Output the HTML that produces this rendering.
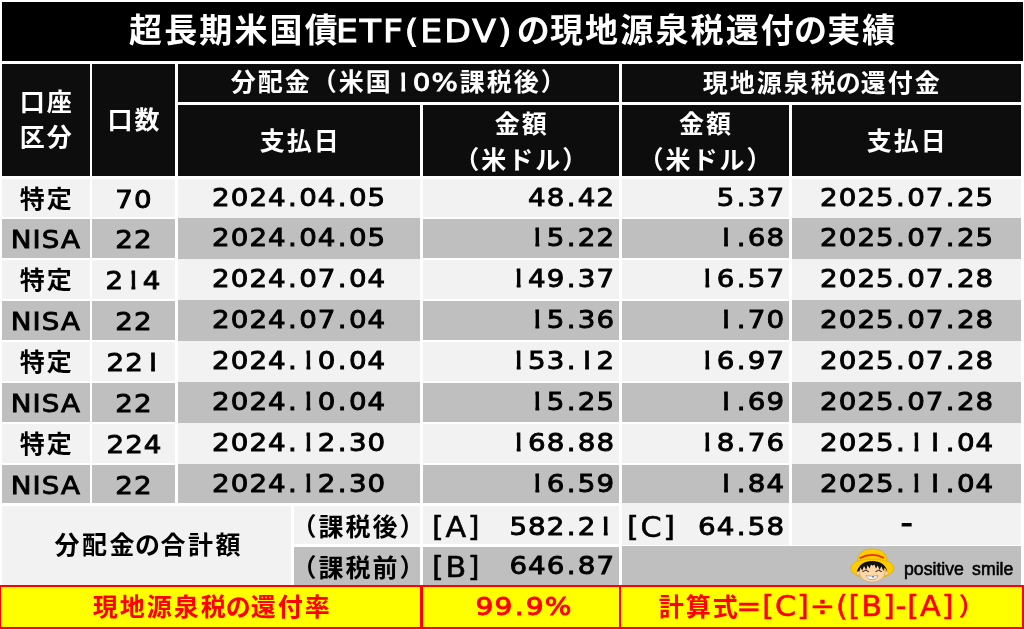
<!DOCTYPE html>
<html lang="ja"><head><meta charset="utf-8"><title>EDV</title><style>
html,body{margin:0;padding:0;background:#fff;}
body{width:1024px;height:629px;overflow:hidden;position:relative;font-family:"DejaVu Sans","Noto Sans CJK JP",sans-serif;}
.c{position:absolute;box-sizing:border-box;white-space:nowrap;overflow:visible;text-align:center;color:#000;}
.c i{font-style:normal;}
.c b{font-weight:inherit;}
.title{color:#fff;font-family:"Noto Sans CJK JP",sans-serif;font-weight:700;font-size:33px;letter-spacing:2.15px;line-height:53.5px;}
.c u{text-decoration:none;margin:0 -2px;}
.title b{font-family:"DejaVu Sans",sans-serif;font-weight:400;font-size:31.5px;-webkit-text-stroke:1px #fff;display:inline-block;transform:scaleX(1.1);margin:0 13.5px 0 4px;letter-spacing:1.8px;}
.h.two{padding-bottom:1px;}
.h.k1{padding-bottom:3.5px;line-height:35px;}
.h{color:#fff;font-family:"Noto Sans CJK JP",sans-serif;font-weight:700;font-size:25px;letter-spacing:2px;display:flex;align-items:center;justify-content:center;line-height:36px;padding-bottom:3px;}
.h b{font-family:"DejaVu Sans",sans-serif;font-weight:400;font-size:25.2px;-webkit-text-stroke:0.9px #fff;display:inline-block;transform:scaleX(1.1);margin:0 4px;letter-spacing:0.95px;}
.d{font-size:28px;}
.jp{font-family:"Noto Sans CJK JP",sans-serif;font-weight:700;font-size:25px;letter-spacing:2px;}
.jp span,.h span,.title span{margin-right:-2px;}
.nisa{letter-spacing:1.8px;}
.nisa span{margin-right:-1.8px;}
.n{font-family:"DejaVu Sans",sans-serif;font-size:25.2px;letter-spacing:0.95px;-webkit-text-stroke:0.9px #000;}
.n span,.n em{display:inline-block;transform:scaleX(1.1);transform-origin:50% 50%;margin-right:-0.95px;}
.n i{margin:0 1.15px;}
.c s{text-decoration:none;display:inline-block;clip-path:inset(-3px 6.85px -3px 6.7px);}
.r span,.lab span{transform-origin:100% 50%;}
.r{text-align:right;padding-right:4px;}
.lab{text-align:right;padding-right:4px;}
.labc em{left:5.2px !important;}
.lab em{font-style:normal;position:absolute;top:1px;left:9px;transform-origin:0 50%;font-size:27.5px;-webkit-text-stroke:0.5px #000;letter-spacing:1.5px;}
.sub span{position:relative;left:-2.5px;top:0.5px;}
.tot{letter-spacing:2.5px;padding-left:3px;}
.y{background:#ffff00;border:2.8px solid #ff0000;}
.yv{background:#ff0000;}
.yt{color:#ff0000;line-height:34px;}
.yt b{font-family:"DejaVu Sans",sans-serif;font-weight:400;font-size:27.5px;-webkit-text-stroke:0.5px #f00;display:inline-block;transform:scaleX(1.1);margin:0 14px 0 6.5px;letter-spacing:0.8px;}
.yt.n{-webkit-text-stroke:0.9px #f00;}
.logo{text-align:left;}
.ps{position:absolute;left:282.5px;top:13px;font-family:"Liberation Sans",sans-serif;font-size:18.6px;line-height:20px;letter-spacing:0;display:inline-block;transform:scaleX(0.95);transform-origin:0 50%;-webkit-text-stroke:0.6px #000;word-spacing:3.5px;}
</style></head><body>
<div class="c title" style="left:1.5px;top:1.5px;width:1021.5px;height:59.5px;background:#000;"><span>超長期米国債<b>ETF(EDV)</b><u>の</u>現地源泉税還付<u>の</u>実績</span></div>
<div class="c h k1" style="left:2px;top:63.7px;width:87.5px;height:112.3px;background:#0d0d0d;"><span>口座<br>区分</span></div>
<div class="c h" style="left:92px;top:63.7px;width:83px;height:112.3px;background:#0d0d0d;"><span>口数</span></div>
<div class="c h" style="left:178px;top:63.7px;width:440.5px;height:38.5px;background:#0d0d0d;"><span>分配金（米国<b><s>1</s>0%</b>課税後）</span></div>
<div class="c h" style="left:621.5px;top:63.7px;width:399.5px;height:38.5px;background:#0d0d0d;"><span>現地源泉税<u>の</u>還付金</span></div>
<div class="c h" style="left:178px;top:105px;width:242.3px;height:71px;background:#0d0d0d;"><span>支払日</span></div>
<div class="c h two" style="left:423px;top:105px;width:195.7px;height:71px;background:#0d0d0d;"><span>金額<br>（米ドル）</span></div>
<div class="c h two" style="left:621.5px;top:105px;width:167.0px;height:71px;background:#0d0d0d;"><span>金額<br>（米ドル）</span></div>
<div class="c h" style="left:791.5px;top:105px;width:229.5px;height:71px;background:#0d0d0d;"><span>支払日</span></div>
<div class="c d jp" style="left:2px;top:178.55px;width:87.5px;height:38.43px;line-height:36.43px;padding-top:0px;background:#f2f2f2"><span>特定</span></div>
<div class="c d n" style="left:92px;top:178.55px;width:83px;height:38.43px;line-height:41.63px;padding-top:0px;background:#f2f2f2"><span>70</span></div>
<div class="c d n" style="left:178px;top:178.55px;width:242.3px;height:39.68px;line-height:38.43px;padding-top:0px;background:#f2f2f2"><span>2024<i>.</i>04<i>.</i>05</span></div>
<div class="c d n r" style="left:423px;top:178.55px;width:195.7px;height:38.43px;line-height:38.43px;padding-top:0px;background:#f2f2f2"><span>48<i>.</i>42</span></div>
<div class="c d n r" style="left:621.5px;top:178.55px;width:167.0px;height:38.43px;line-height:38.43px;padding-top:0px;background:#f2f2f2"><span>5<i>.</i>37</span></div>
<div class="c d n" style="left:791.5px;top:178.55px;width:229.5px;height:39.68px;line-height:38.43px;padding-top:0px;background:#f2f2f2"><span>2025<i>.</i>07<i>.</i>25</span></div>
<div class="c d n nisa" style="left:2px;top:219.48px;width:87.5px;height:38.43px;line-height:41.63px;padding-top:0px;background:#bfbfbf"><span>NISA</span></div>
<div class="c d n" style="left:92px;top:219.48px;width:83px;height:38.43px;line-height:41.63px;padding-top:0px;background:#bfbfbf"><span>22</span></div>
<div class="c d n" style="left:178px;top:218.23px;width:242.3px;height:40.93px;line-height:38.43px;padding-top:1.25px;background:#bfbfbf"><span>2024<i>.</i>04<i>.</i>05</span></div>
<div class="c d n r" style="left:423px;top:219.48px;width:195.7px;height:38.43px;line-height:38.43px;padding-top:0px;background:#bfbfbf"><span><s>1</s>5<i>.</i>22</span></div>
<div class="c d n r" style="left:621.5px;top:219.48px;width:167.0px;height:38.43px;line-height:38.43px;padding-top:0px;background:#bfbfbf"><span><s>1</s><i>.</i>68</span></div>
<div class="c d n" style="left:791.5px;top:218.23px;width:229.5px;height:40.93px;line-height:38.43px;padding-top:1.25px;background:#bfbfbf"><span>2025<i>.</i>07<i>.</i>25</span></div>
<div class="c d jp" style="left:2px;top:260.41px;width:87.5px;height:38.43px;line-height:36.43px;padding-top:0px;background:#f2f2f2"><span>特定</span></div>
<div class="c d n" style="left:92px;top:260.41px;width:83px;height:38.43px;line-height:41.63px;padding-top:0px;background:#f2f2f2"><span>2<s>1</s>4</span></div>
<div class="c d n" style="left:178px;top:259.16px;width:242.3px;height:40.93px;line-height:38.43px;padding-top:1.25px;background:#f2f2f2"><span>2024<i>.</i>07<i>.</i>04</span></div>
<div class="c d n r" style="left:423px;top:260.41px;width:195.7px;height:38.43px;line-height:38.43px;padding-top:0px;background:#f2f2f2"><span><s>1</s>49<i>.</i>37</span></div>
<div class="c d n r" style="left:621.5px;top:260.41px;width:167.0px;height:38.43px;line-height:38.43px;padding-top:0px;background:#f2f2f2"><span><s>1</s>6<i>.</i>57</span></div>
<div class="c d n" style="left:791.5px;top:259.16px;width:229.5px;height:40.93px;line-height:38.43px;padding-top:1.25px;background:#f2f2f2"><span>2025<i>.</i>07<i>.</i>28</span></div>
<div class="c d n nisa" style="left:2px;top:301.34px;width:87.5px;height:38.43px;line-height:41.63px;padding-top:0px;background:#bfbfbf"><span>NISA</span></div>
<div class="c d n" style="left:92px;top:301.34px;width:83px;height:38.43px;line-height:41.63px;padding-top:0px;background:#bfbfbf"><span>22</span></div>
<div class="c d n" style="left:178px;top:300.09px;width:242.3px;height:40.93px;line-height:38.43px;padding-top:1.25px;background:#bfbfbf"><span>2024<i>.</i>07<i>.</i>04</span></div>
<div class="c d n r" style="left:423px;top:301.34px;width:195.7px;height:38.43px;line-height:38.43px;padding-top:0px;background:#bfbfbf"><span><s>1</s>5<i>.</i>36</span></div>
<div class="c d n r" style="left:621.5px;top:301.34px;width:167.0px;height:38.43px;line-height:38.43px;padding-top:0px;background:#bfbfbf"><span><s>1</s><i>.</i>70</span></div>
<div class="c d n" style="left:791.5px;top:300.09px;width:229.5px;height:40.93px;line-height:38.43px;padding-top:1.25px;background:#bfbfbf"><span>2025<i>.</i>07<i>.</i>28</span></div>
<div class="c d jp" style="left:2px;top:342.27px;width:87.5px;height:38.43px;line-height:36.43px;padding-top:0px;background:#f2f2f2"><span>特定</span></div>
<div class="c d n" style="left:92px;top:342.27px;width:83px;height:38.43px;line-height:41.63px;padding-top:0px;background:#f2f2f2"><span>22<s>1</s></span></div>
<div class="c d n" style="left:178px;top:341.02px;width:242.3px;height:40.93px;line-height:38.43px;padding-top:1.25px;background:#f2f2f2"><span>2024<i>.</i><s>1</s>0<i>.</i>04</span></div>
<div class="c d n r" style="left:423px;top:342.27px;width:195.7px;height:38.43px;line-height:38.43px;padding-top:0px;background:#f2f2f2"><span><s>1</s>53<i>.</i><s>1</s>2</span></div>
<div class="c d n r" style="left:621.5px;top:342.27px;width:167.0px;height:38.43px;line-height:38.43px;padding-top:0px;background:#f2f2f2"><span><s>1</s>6<i>.</i>97</span></div>
<div class="c d n" style="left:791.5px;top:341.02px;width:229.5px;height:40.93px;line-height:38.43px;padding-top:1.25px;background:#f2f2f2"><span>2025<i>.</i>07<i>.</i>28</span></div>
<div class="c d n nisa" style="left:2px;top:383.2px;width:87.5px;height:38.43px;line-height:41.63px;padding-top:0px;background:#bfbfbf"><span>NISA</span></div>
<div class="c d n" style="left:92px;top:383.2px;width:83px;height:38.43px;line-height:41.63px;padding-top:0px;background:#bfbfbf"><span>22</span></div>
<div class="c d n" style="left:178px;top:381.95px;width:242.3px;height:40.93px;line-height:38.43px;padding-top:1.25px;background:#bfbfbf"><span>2024<i>.</i><s>1</s>0<i>.</i>04</span></div>
<div class="c d n r" style="left:423px;top:383.2px;width:195.7px;height:38.43px;line-height:38.43px;padding-top:0px;background:#bfbfbf"><span><s>1</s>5<i>.</i>25</span></div>
<div class="c d n r" style="left:621.5px;top:383.2px;width:167.0px;height:38.43px;line-height:38.43px;padding-top:0px;background:#bfbfbf"><span><s>1</s><i>.</i>69</span></div>
<div class="c d n" style="left:791.5px;top:381.95px;width:229.5px;height:40.93px;line-height:38.43px;padding-top:1.25px;background:#bfbfbf"><span>2025<i>.</i>07<i>.</i>28</span></div>
<div class="c d jp" style="left:2px;top:424.13px;width:87.5px;height:38.43px;line-height:36.43px;padding-top:0px;background:#f2f2f2"><span>特定</span></div>
<div class="c d n" style="left:92px;top:424.13px;width:83px;height:38.43px;line-height:41.63px;padding-top:0px;background:#f2f2f2"><span>224</span></div>
<div class="c d n" style="left:178px;top:422.88px;width:242.3px;height:40.93px;line-height:38.43px;padding-top:1.25px;background:#f2f2f2"><span>2024<i>.</i><s>1</s>2<i>.</i>30</span></div>
<div class="c d n r" style="left:423px;top:424.13px;width:195.7px;height:38.43px;line-height:38.43px;padding-top:0px;background:#f2f2f2"><span><s>1</s>68<i>.</i>88</span></div>
<div class="c d n r" style="left:621.5px;top:424.13px;width:167.0px;height:38.43px;line-height:38.43px;padding-top:0px;background:#f2f2f2"><span><s>1</s>8<i>.</i>76</span></div>
<div class="c d n" style="left:791.5px;top:422.88px;width:229.5px;height:40.93px;line-height:38.43px;padding-top:1.25px;background:#f2f2f2"><span>2025<i>.</i><s>1</s><s>1</s><i>.</i>04</span></div>
<div class="c d n nisa" style="left:2px;top:465.06px;width:87.5px;height:38.34px;line-height:41.63px;padding-top:0px;background:#bfbfbf"><span>NISA</span></div>
<div class="c d n" style="left:92px;top:465.06px;width:83px;height:38.34px;line-height:41.63px;padding-top:0px;background:#bfbfbf"><span>22</span></div>
<div class="c d n" style="left:178px;top:463.81px;width:242.3px;height:39.59px;line-height:38.43px;padding-top:1.25px;background:#bfbfbf"><span>2024<i>.</i><s>1</s>2<i>.</i>30</span></div>
<div class="c d n r" style="left:423px;top:465.06px;width:195.7px;height:38.34px;line-height:38.43px;padding-top:0px;background:#bfbfbf"><span><s>1</s>6<i>.</i>59</span></div>
<div class="c d n r" style="left:621.5px;top:465.06px;width:167.0px;height:38.34px;line-height:38.43px;padding-top:0px;background:#bfbfbf"><span><s>1</s><i>.</i>84</span></div>
<div class="c d n" style="left:791.5px;top:463.81px;width:229.5px;height:39.59px;line-height:38.43px;padding-top:1.25px;background:#bfbfbf"><span>2025<i>.</i><s>1</s><s>1</s><i>.</i>04</span></div>
<div class="c d jp tot" style="left:2px;top:506px;width:288.5px;height:79px;background:#f2f2f2;line-height:74px"><span>分配金<u>の</u>合計額</span></div>
<div class="c d jp sub" style="left:294px;top:506px;width:126.3px;height:38.1px;background:#f2f2f2;line-height:37.8px"><span>（課税後）</span></div>
<div class="c d jp sub" style="left:294px;top:547px;width:126.3px;height:38px;background:#bfbfbf;line-height:37.6px"><span>（課税前）</span></div>
<div class="c d n lab" style="left:423px;top:506px;width:195.7px;height:38.1px;background:#f2f2f2;line-height:41.8px"><em>[A]</em><span>582<i>.</i>2<s>1</s></span></div>
<div class="c d n lab" style="left:423px;top:547px;width:195.7px;height:38px;background:#bfbfbf;line-height:38px"><em>[B]</em><span>646<i>.</i>87</span></div>
<div class="c d n lab labc" style="left:621.5px;top:503.3px;width:167.0px;height:42.2px;background:#f2f2f2;line-height:47px"><em>[C]</em><span>64<i>.</i>58</span></div>
<div class="c d n" style="left:791.5px;top:503.3px;width:229.5px;height:42.2px;background:#f2f2f2;line-height:39.5px;font-size:31px"><span>-</span></div>
<div class="c logo" style="left:621.5px;top:545.5px;width:399.5px;height:39.5px;background:#bfbfbf;"><span class="ps">positive smile</span></div>
<svg class="face" style="position:absolute;left:845px;top:544px" width="60" height="44" viewBox="845 544 60 44">
<ellipse cx="872.3" cy="568.3" rx="21.4" ry="10.4" fill="#ffcc00" stroke="#d9a400" stroke-width="0.6"/>
<path d="M857.2 561.5 C857.2 553 864 548.9 872.2 548.9 C880.5 548.9 887.2 553 887.2 561.5 C880 558.5 864 558.5 857.2 561.5Z" fill="#ffcc00" stroke="#d9a400" stroke-width="0.6"/>
<path d="M859.6 558.2 Q872.3 551.6 884 557.9" fill="none" stroke="#f02800" stroke-width="1.7"/>
<circle cx="858.3" cy="573.2" r="2" fill="#ffd6a5" stroke="#b9854f" stroke-width="0.4"/>
<circle cx="886.2" cy="573.2" r="2" fill="#ffd6a5" stroke="#b9854f" stroke-width="0.4"/>
<ellipse cx="872.2" cy="571.9" rx="12.9" ry="10.3" fill="#ffd6a5" stroke="#b9854f" stroke-width="0.4"/>
<path d="M856.9 571.6 C858.5 565 864.5 561 872.3 561 C880 561 886 565 887.3 571.4 L884.6 567.6 L883.4 571 L881.4 566.2 L879.6 570 L877.8 565.4 L876 568.6 L874.4 564.6 L872.6 565.8 L871 564.4 L869.6 568.4 L867.6 565.2 L866.2 570 L864 566 L862.2 570.8 L860.4 567.4 L859.4 571.2 Z" fill="#111"/>
<path d="M862.4 571.7 Q865.6 568.9 868.8 571.6" fill="none" stroke="#111" stroke-width="0.95"/>
<path d="M875.5 571.6 Q878.7 568.9 881.9 571.7" fill="none" stroke="#111" stroke-width="0.95"/>
<path d="M866.2 575.6 Q872.1 576.8 878 575.6 Q876.8 579.7 872.1 579.7 Q867.4 579.7 866.2 575.6Z" fill="#f4f4f4" stroke="#777" stroke-width="0.5"/>
<rect x="872.5" y="576.3" width="1.1" height="1.3" fill="#222"/>
</svg>
<div class="c y" style="left:-1.3px;top:584.9px;width:1025.3px;height:44.2px"></div>
<div class="c yv" style="left:420px;top:585px;width:2.5px;height:43px"></div>
<div class="c yv" style="left:618.5px;top:585px;width:2.5px;height:43px"></div>
<div class="c yt jp" style="left:2.5px;top:587.5px;width:417.5px;height:38px"><span>現地源泉税<u>の</u>還付率</span></div>
<div class="c yt n" style="left:425.5px;top:589.3px;width:196px;height:38px;font-size:25.5px"><span>99<i>.</i>9%</span></div>
<div class="c yt jp" style="left:621px;top:587.5px;width:400.5px;height:38px"><span>計算式<b>=[C]÷([B]-[A]</b>）</span></div>
</body></html>
